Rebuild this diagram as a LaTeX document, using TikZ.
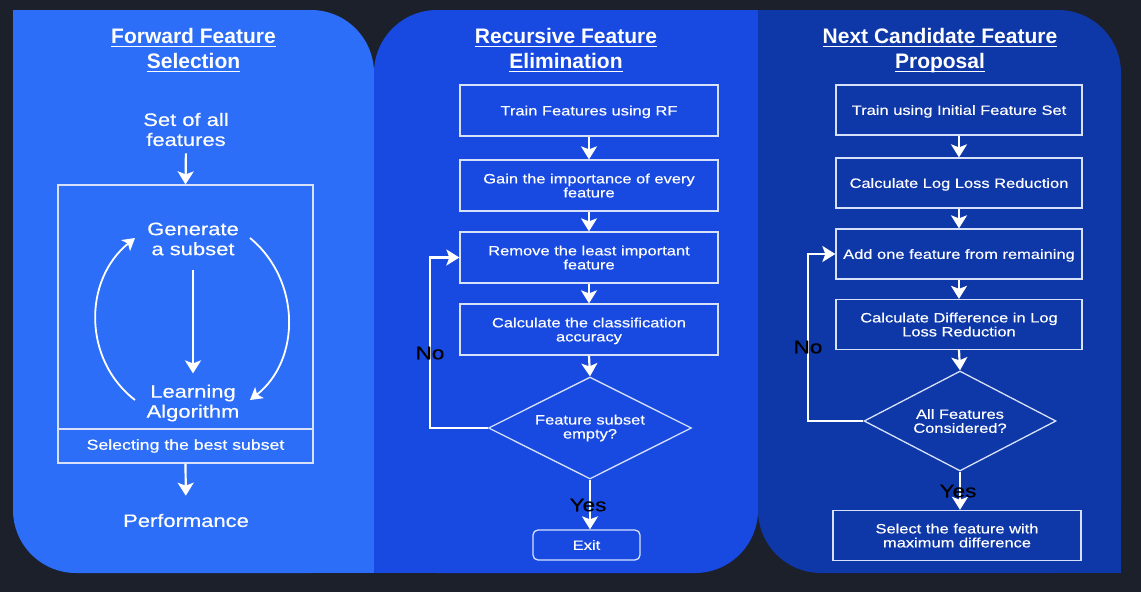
\documentclass[tikz,border=0pt]{standalone}
\usepackage{fontspec}
\usepackage{amsmath}
\setmainfont{Liberation Sans}
\newfontfamily\wf[FakeStretch=1.22,FakeBold=0.4]{Liberation Sans}
\usetikzlibrary{shapes.geometric,arrows.meta}
\definecolor{bgc}{RGB}{28,32,43}
\definecolor{pa}{RGB}{44,110,248}
\definecolor{pb}{RGB}{24,74,226}
\definecolor{pc}{RGB}{14,55,168}
\definecolor{edgec}{RGB}{215,225,250}
\newcommand\ulttl[1]{\underline{\smash[b]{#1}}}
\begin{document}
\begin{tikzpicture}[x=1pt,y=-1pt,
  ttlstyle/.style={text=white,font=\bfseries\fontsize{21}{25}\selectfont,align=center,inner sep=0},
  bigtxt/.style={text=white,font=\wf\fontsize{18}{20}\selectfont,align=center,inner sep=0},
  boxst/.style={draw=edgec,line width=1.3pt,text=white,font=\wf\fontsize{13.5}{14}\selectfont,align=center,inner sep=0,text depth=0pt,minimum width=#1,minimum height=51},
  dia/.style={diamond,aspect=2,draw=edgec,line width=1.3pt,text=white,font=\wf\fontsize{13.5}{14}\selectfont,align=center,inner sep=0},
  exitst/.style={draw=edgec,line width=1.3pt,rounded corners=5pt,text=white,font=\wf\fontsize{13.5}{14}\selectfont,inner sep=0,minimum width=107,minimum height=30},
  lbl/.style={text=black,font=\wf\fontsize{18.5}{20}\selectfont,inner sep=0},
  arr/.style={draw=white,line width=2.2pt,-{Stealth[length=13pt,width=16pt,inset=3pt]}},
  arcst/.style={draw=white,line width=1.8pt,-{Stealth[length=12pt,width=14pt,inset=3pt]}}
]
\useasboundingbox (0,0) rectangle (1141,592);
\fill[bgc] (0,0) rectangle (1141,592);
% panels
\fill[pa,rounded corners=63pt] (13,10) rectangle (374,573);
\fill[pa] (13,10) rectangle (120,120);
\fill[pa] (260,460) rectangle (374,573);
\fill[pb,rounded corners=63pt] (374,10) rectangle (758,573);
\fill[pb] (600,10) rectangle (758,120);
\fill[pb] (374,460) rectangle (500,573);
\fill[pc,rounded corners=63pt] (758,10) rectangle (1121,573);
\fill[pc] (758,10) rectangle (880,120);
\fill[pc] (1000,460) rectangle (1121,573);

% ---------- Panel 1 ----------
\node[ttlstyle] (t1) at (193.5,50) {\ulttl{Forward Feature}\\\ulttl{Selection}};
\node[bigtxt] (set) at (186,129.5) {Set of all\\features};
\node[draw=edgec,line width=1.2pt,minimum width=255,minimum height=244,inner sep=0] (top) at (185.5,307) {};
\node[draw=edgec,line width=1.2pt,minimum width=255,minimum height=34,inner sep=0,text=white,font=\wf\fontsize{14.5}{16}\selectfont] (sel) at (185.5,446) {Selecting the best subset};
\node[bigtxt] (gen) at (193,239) {Generate\\a subset};
\node[bigtxt] (learn) at (193,403) {Learning\\Algorithm};
\node[bigtxt] (perf) at (186,520.5) {Performance};
\draw[arr,shorten <=7pt] (set.south) -- (top.north);
\draw[arr,shorten <=14pt,shorten >=11pt] (gen.south) -- (learn.north);
\draw[arr,shorten >=18pt] (sel.south) -- (perf.north);
\coordinate (la) at (135,400);
\coordinate (lb) at (135,238);
\coordinate (ra) at (250,238);
\coordinate (rb) at (250,400);
\draw[arcst] (la) .. controls (83,360) and (83,280) .. (lb);
\draw[arcst] (ra) .. controls (301,280) and (301,360) .. (rb);

% ---------- Panel 2 ----------
\node[ttlstyle] (t2) at (566,50) {\ulttl{Recursive Feature}\\\ulttl{Elimination}};
\node[boxst=258] (b1) at (589,110.5) {Train Features using RF};
\node[boxst=258] (b2) at (589,185.5) {Gain the importance of every\\feature};
\node[boxst=258] (b3) at (589,257.5) {Remove the least important\\feature};
\node[boxst=258] (b4) at (589,329.5) {Calculate the classification\\accuracy};
\node[dia,minimum width=203,minimum height=102] (d2) at (590,428) {Feature subset\\empty?};
\node[exitst] (ex) at (586.5,545) {Exit};
\coordinate (n2) at (430,428);
\draw[arr] (b1.south) -- (b2.north);
\draw[arr] (b2.south) -- (b3.north);
\draw[arr] (b3.south) -- (b4.north);
\draw[arr] (b4.south) -- (d2.north);
\draw[arr] (d2.west) -- (n2) |- (b3.west);
\draw[arr] (d2.south) -- (d2.south |- ex.north);
\node[lbl] (no2) at (430,353) {No};
\node[lbl] (yes2) at (588,505) {Yes};

% ---------- Panel 3 ----------
\node[ttlstyle] (t3) at (940,50) {\ulttl{Next Candidate Feature}\\\ulttl{Proposal}};
\node[boxst=246,minimum height=50] (c1) at (959,110) {Train using Initial Feature Set};
\node[boxst=246,minimum height=50] (c2) at (959,183) {Calculate Log Loss Reduction};
\node[boxst=246,minimum height=50] (c3) at (959,254) {Add one feature from remaining};
\node[boxst=246,minimum height=50] (c4) at (959,324.5) {Calculate Difference in Log\\Loss Reduction};
\node[dia,minimum width=192,minimum height=100] (d3) at (960,421) {All Features\\Considered?};
\node[boxst=248,minimum height=50] (c5) at (957,535.5) {Select the feature with\\maximum difference};
\coordinate (n3) at (808,421);
\draw[arr] (c1.south) -- (c2.north);
\draw[arr] (c2.south) -- (c3.north);
\draw[arr] (c3.south) -- (c4.north);
\draw[arr] (c4.south) -- (d3.north);
\draw[arr] (d3.west) -- (n3) |- (c3.west);
\draw[arr] (d3.south) -- (d3.south |- c5.north);
\node[lbl] (no3) at (808,347) {No};
\node[lbl] (yes3) at (958,491) {Yes};
\end{tikzpicture}
\end{document}
